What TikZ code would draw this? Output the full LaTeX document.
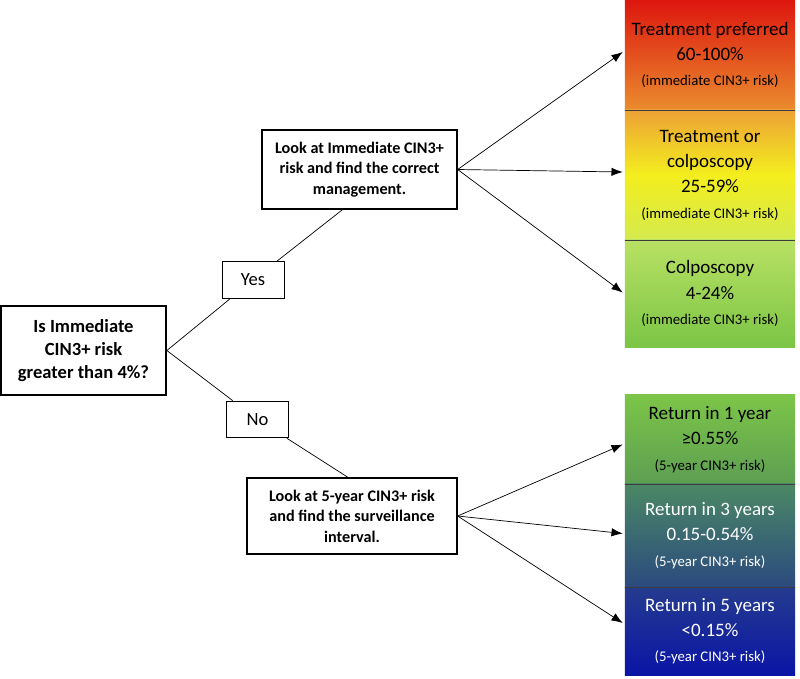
\documentclass[tikz,border=0pt]{standalone}
\usepackage{fontspec}
\setmainfont{Carlito}
\usetikzlibrary{arrows.meta,calc}

\definecolor{riskred}{RGB}{221,22,14}
\definecolor{riskorange}{RGB}{234,140,46}
\definecolor{riskamber}{RGB}{237,161,53}
\definecolor{riskyellow}{RGB}{243,238,30}
\definecolor{risklime}{RGB}{212,234,78}
\definecolor{risklightgreen}{RGB}{185,225,99}
\definecolor{riskgreen}{RGB}{123,197,70}
\definecolor{survgreen}{RGB}{124,197,72}
\definecolor{survsage}{RGB}{93,158,82}
\definecolor{survteal}{RGB}{75,136,101}
\definecolor{survslate}{RGB}{43,74,126}
\definecolor{survnavy}{RGB}{37,59,142}
\definecolor{survblue}{RGB}{10,21,166}
\definecolor{divgray}{RGB}{60,60,60}

\tikzset{
  qbox/.style={draw, line width=1.2pt, align=center, inner sep=0pt,
    font=\bfseries\fontsize{13.2}{16.5}\selectfont},
  lookbox/.style={draw, line width=0.9pt, align=center, inner sep=0pt,
    font=\bfseries\fontsize{11.5}{14.5}\selectfont},
  ansbox/.style={draw, line width=0.6pt, fill=white, inner sep=0pt,
    minimum width=1.55cm, minimum height=0.92cm, font=\fontsize{13.2}{16}\selectfont},
  riskbox/.style={align=center, inner sep=0pt, minimum width=4.25cm,
    font=\fontsize{13.5}{18}\selectfont},
  conn/.style={line width=0.5pt},
  arr/.style={line width=0.5pt, -{Latex[length=2.8mm,width=2.1mm]}},
  divider/.style={line width=0.6pt, color=divgray},
}
\newcommand{\riskof}[1]{{\fontsize{10.5}{13.5}\selectfont (#1)}}

\begin{document}
\begin{tikzpicture}[x=0.025cm, y=-0.025cm]
		%%%%% START %%%%%
		\useasboundingbox (0, 0) rectangle (800, 678);
		
		% question and the two look-up boxes
		\node[qbox, minimum width=4.125cm, minimum height=2.225cm] (q) at (83.5, 350.5)
			{Is Immediate\\CIN3+ risk\\greater than 4\%?};
		\node[lookbox, minimum width=4.875cm, minimum height=1.975cm] (look1) at (359.5, 169.5)
			{Look at Immediate CIN3+\\risk and find the correct\\management.};
		\node[lookbox, minimum width=5.25cm, minimum height=1.9cm] (look2) at (352, 516)
			{Look at 5-year CIN3+ risk\\and find the surveillance\\interval.};
		
		% immediate risk column
		\node[riskbox, minimum height=2.75cm, top color=riskred, bottom color=riskorange] (t1) at (710, 55)
			{Treatment preferred\\60-100\%\\\riskof{immediate CIN3+ risk}};
		\node[riskbox, minimum height=3.25cm, top color=riskamber, bottom color=risklime,
			middle color=riskyellow] (t2) at (710, 175)
			{Treatment or\\colposcopy\\25-59\%\\\riskof{immediate CIN3+ risk}};
		\node[riskbox, minimum height=2.675cm, top color=risklightgreen, bottom color=riskgreen] (t3) at (710, 293.5)
			{Colposcopy\\4-24\%\\\riskof{immediate CIN3+ risk}};
		\draw[divider] (t1.south west) -- (t1.south east);
		\draw[divider] (t2.south west) -- (t2.south east);
		
		% surveillance column
		\node[riskbox, minimum height=2.225cm, top color=survgreen, bottom color=survsage] (b1) at (710, 439.5)
			{Return in 1 year\\≥0.55\%\\\riskof{5-year CIN3+ risk}};
		\node[riskbox, minimum height=2.575cm, top color=survteal, bottom color=survslate, text=white] (b2) at (710, 535.5)
			{Return in 3 years\\0.15-0.54\%\\\riskof{5-year CIN3+ risk}};
		\node[riskbox, minimum height=2.2cm, top color=survnavy, bottom color=survblue, text=white] (b3) at (710, 631)
			{Return in 5 years\\<0.15\%\\\riskof{5-year CIN3+ risk}};
		\draw[divider] (b1.south west) -- (b1.south east);
		\draw[divider] (b2.south west) -- (b2.south east);
		
		% yes / no branches
		\node[ansbox] (yes) at (253, 280) {Yes};
		\node[ansbox] (no) at (257.5, 419.5) {No};
		\draw[conn] (q.east) -- (yes);
		\draw[conn] (yes) -- ($(look1.south)+(-17, 0)$);
		\draw[conn] (q.east) -- (no);
		\draw[conn] (no) -- ($(look2.north)+(-4, 0)$);
		
		% arrows to the columns
		\draw[arr] (look1.east) -- ($(t1.west)+(-2, -3)$);
		\draw[arr] (look1.east) -- ($(t2.west)+(-2, -3)$);
		\draw[arr] (look1.east) -- ($(t3.west)+(-2, -1)$);
		\draw[arr] (look2.east) -- ($(b1.west)+(-2, 5)$);
		\draw[arr] (look2.east) -- ($(b2.west)+(-2, -2)$);
		\draw[arr] (look2.east) -- ($(b3.west)+(-2, -8)$);
		
		%%%%% END %%%%%
	\end{tikzpicture}
\end{document}
